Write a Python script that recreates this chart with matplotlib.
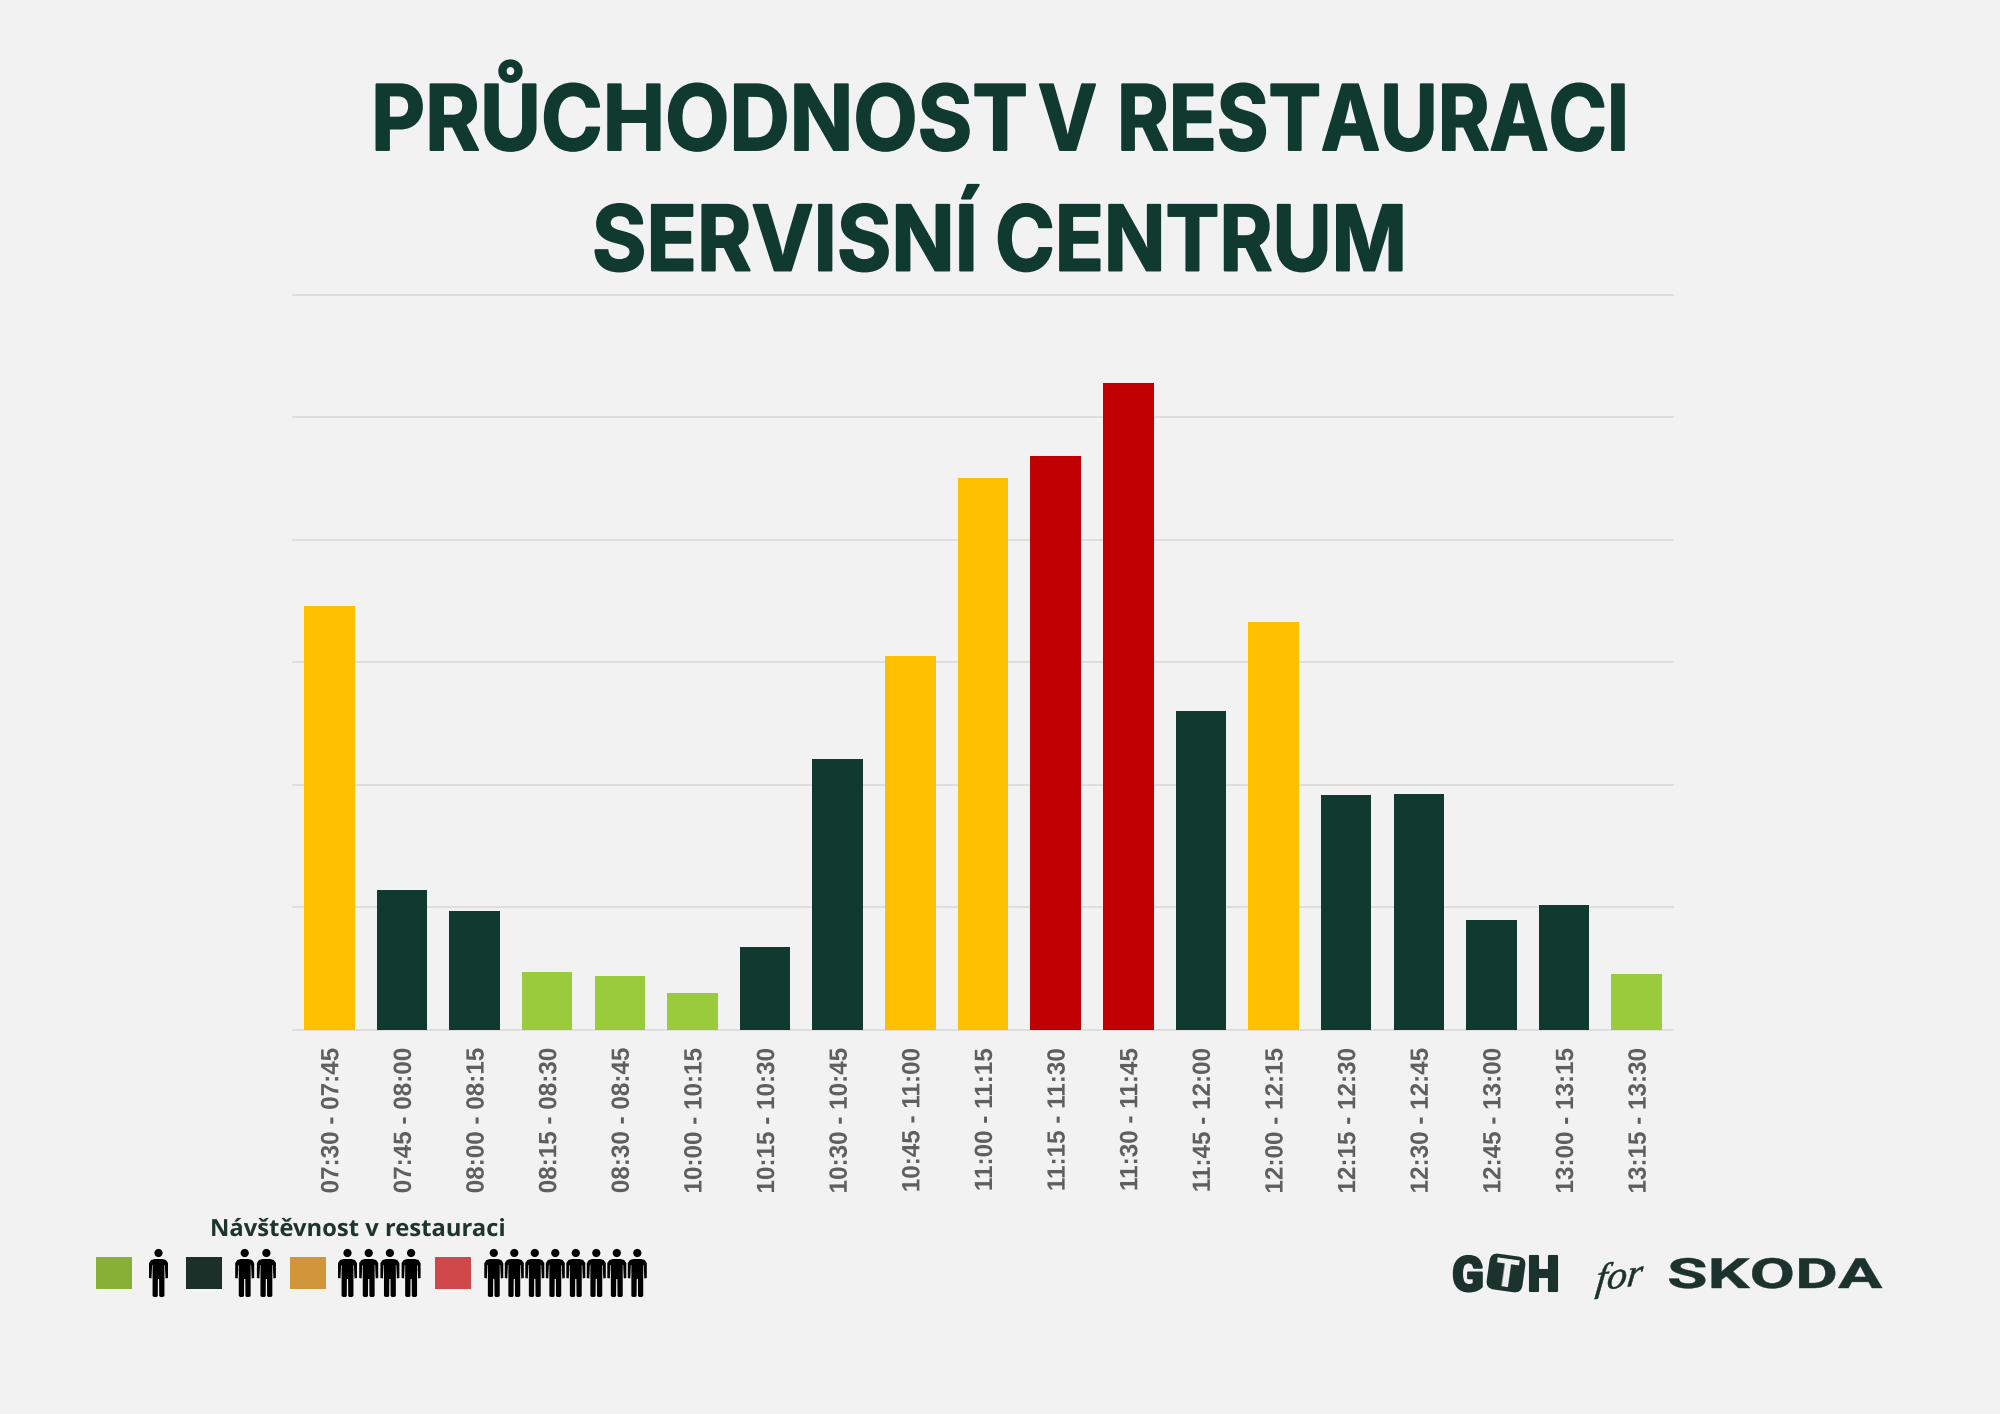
#!/usr/bin/env python3
"""Throughput per quarter hour in the service centre restaurant."""

import numpy as np
import matplotlib
matplotlib.use("Agg")
import matplotlib.pyplot as plt
import matplotlib.patheffects as pe
from matplotlib.patches import Circle, FancyBboxPatch, Polygon, Rectangle
from matplotlib.path import Path
from matplotlib.transforms import Affine2D, IdentityTransform

# -------------------- Data --------------------
SLOTS = [
    "07:30 - 07:45", "07:45 - 08:00", "08:00 - 08:15", "08:15 - 08:30",
    "08:30 - 08:45", "10:00 - 10:15", "10:15 - 10:30", "10:30 - 10:45",
    "10:45 - 11:00", "11:00 - 11:15", "11:15 - 11:30", "11:30 - 11:45",
    "11:45 - 12:00", "12:00 - 12:15", "12:15 - 12:30", "12:30 - 12:45",
    "12:45 - 13:00", "13:00 - 13:15", "13:15 - 13:30",
]
VISITORS = [34.6, 11.4, 9.65, 4.7, 4.4, 3.0, 6.75, 22.1, 30.5, 45.05,
            46.85, 52.8, 26.0, 33.3, 19.15, 19.25, 8.95, 10.15, 4.5]
LEVELS = ["high", "mid", "mid", "low", "low", "low", "mid", "mid", "high", "high",
          "peak", "peak", "mid", "high", "mid", "mid", "mid", "mid", "low"]
Y_TICKS = [0, 10, 20, 30, 40, 50, 60]
LEGEND_PEOPLE = [1, 2, 4, 8]

TITLE_LINES = ["PRŮCHODNOST V RESTAURACI", "SERVISNÍ CENTRUM"]
LEGEND_TITLE = "Návštěvnost v restauraci"

# -------------------- Style --------------------
BG = "#f2f2f2"
INK = "#103a30"
LOGO_INK = "#1b332c"
BAR_COLORS = {"low": "#9acb3c", "mid": "#103a30", "high": "#ffc000", "peak": "#c00000"}
SWATCH_COLORS = ["#88b036", "#1b3028", "#d2963a", "#cf484a"]
W, H = 2000, 1414


class Stretch(pe.AbstractPathEffect):
    """Scale glyph outlines around a display point, optionally thickening them."""

    def __init__(self, sx=1.0, sy=1.0, cx=0.0, cy=0.0, dx=0.0, skew=0.0, stroke=0.0):
        super().__init__()
        self.sx, self.sy, self.cx, self.cy = sx, sy, cx, cy
        self.dx, self.skew, self.stroke = dx, skew, stroke

    def draw_path(self, renderer, gc, tpath, affine, rgbFace=None):
        scale = (Affine2D().translate(-self.cx, -self.cy).skew_deg(self.skew, 0)
                 .scale(self.sx, self.sy).translate(self.cx + self.dx, self.cy))
        gc0 = renderer.new_gc()
        gc0.copy_properties(gc)
        if self.stroke and rgbFace is not None:
            gc0.set_linewidth(self.stroke)
            gc0.set_foreground(rgbFace)
        renderer.draw_path(gc0, tpath, affine + scale, rgbFace)
        gc0.restore()


class WordSpans(pe.AbstractPathEffect):
    """Remap glyph x positions piecewise, from src knots to dst knots (display px)."""

    def __init__(self, src, dst, stroke=0.0):
        super().__init__()
        self.src, self.dst, self.stroke = src, dst, stroke

    def draw_path(self, renderer, gc, tpath, affine, rgbFace=None):
        verts = affine.transform(tpath.vertices)
        verts[:, 0] = np.interp(verts[:, 0], self.src, self.dst)
        gc0 = renderer.new_gc()
        gc0.copy_properties(gc)
        gc0.set_linewidth(self.stroke)
        gc0.set_foreground(rgbFace)
        renderer.draw_path(gc0, Path(verts, tpath.codes), IdentityTransform(), rgbFace)
        gc0.restore()


def text_width(ax, s, **kw):
    t = ax.text(0, 0, s, **kw)
    width = t.get_window_extent(ax.figure.canvas.get_renderer()).width
    t.remove()
    return width


def fit_words(ax, baseline, s, spans, stroke=0.0, **kw):
    # one text line whose words each land on their own pixel span
    x0 = spans[0][0]
    src, end = [], ""
    for word in s.split(" "):
        end = f"{end} {word}" if end else word
        stop = text_width(ax, end, **kw)
        src += [x0 + stop - text_width(ax, word, **kw), x0 + stop]
    dst = [x for span in spans for x in span]
    # keep the scale of outlines that reach past the measured ends
    src = [src[0] - 50] + src + [src[-1] + 50]
    dst = [dst[0] - 50] + dst + [dst[-1] + 50]
    return ax.text(x0, baseline, s, ha="left", va="baseline",
                   path_effects=[WordSpans(src, dst, stroke=stroke)], **kw)


def fit_text(ax, x0, x1, baseline, s, stroke=0.0, **kw):
    # place text on a pixel baseline and stretch it to span x0..x1
    t = ax.text(x0, baseline, s, ha="left", va="baseline", **kw)
    bb = t.get_window_extent(ax.figure.canvas.get_renderer())
    t.set_path_effects([Stretch(sx=(x1 - x0) / bb.width, cx=bb.x0, stroke=stroke)])
    return t


def draw_person(ax, cx, top):
    # 19 px wide, 48 px tall pictogram
    ux = 19.0 / 16.0
    half = [(0, 10), (3.2, 10), (6.2, 11), (8, 14), (8, 29), (5.9, 29.5), (5.4, 16),
            (5, 16), (5, 47), (3.8, 48), (1.6, 48), (0.6, 47), (0.5, 30)]
    pts = half + [(-x, y) for x, y in reversed(half[1:])]
    ax.add_patch(Polygon([(cx + x * ux, top + y) for x, y in pts], fc="black", ec="none"))
    ax.add_patch(Circle((cx, top + 4.0), 4.1, fc="black", ec="none"))


fig = plt.figure(figsize=(W / 100, H / 100), dpi=100, facecolor=BG)

# -------------------- Bars --------------------
ax = fig.add_axes([293 / W, 1 - 1029.5 / H, (1673 - 293) / W, (1029.5 - 294.6) / H], facecolor=BG)
ax.bar(range(len(SLOTS)), VISITORS, width=0.695, color=[BAR_COLORS[k] for k in LEVELS], zorder=3)
ax.set_xlim(-0.5, len(SLOTS) - 0.5)
ax.set_ylim(Y_TICKS[0], Y_TICKS[-1])
ax.set_yticks(Y_TICKS)
ax.set_yticklabels([])
ax.set_xticks(range(len(SLOTS)))
ax.set_xticklabels(SLOTS, rotation=90, fontsize=18, fontweight="bold",
                   family="Liberation Sans", color="#5f5f5f")
ax.tick_params(length=0, axis="both")
ax.tick_params(axis="x", pad=13)
ax.grid(True, axis="y", color="#d9d9d9", linewidth=1.1, zorder=0)
for line in ax.get_ygridlines():
    line.set_clip_on(False)
for side in ax.spines.values():
    side.set_visible(False)
# squeeze the time labels slightly along their length
for label in ax.get_xticklabels():
    label.set_path_effects([Stretch(sy=0.97, cy=H - 1048, dx=2)])

# -------------------- Title, legend and logos, laid out in pixels --------------------
over = fig.add_axes([0, 0, 1, 1], facecolor="none")
over.set_xlim(0, W)
over.set_ylim(H, 0)
over.axis("off")

title_kw = dict(fontsize=65, fontweight="bold", family="Inter", color=INK)
fit_words(over, 150, TITLE_LINES[0], [(371, 1028), (1038, 1097), (1117, 1629)], stroke=1.4, **title_kw)
fit_words(over, 270.5, TITLE_LINES[1], [(592, 978), (995, 1407)], stroke=1.4, **title_kw)

fit_text(over, 210, 506, 1236, LEGEND_TITLE, fontsize=17, fontweight="bold", family="Open Sans", color="#1e352d")

swatch_x = [96, 185.5, 290, 434.5]
person_x0 = [158.5, 244.7, 347.5, 493.8]
person_step = [0, 21.7, 21.2, 20.5]
for sx, color, px, step, n in zip(swatch_x, SWATCH_COLORS, person_x0, person_step, LEGEND_PEOPLE):
    over.add_patch(Rectangle((sx, 1257), 36, 32, fc=color, ec="none"))
    for i in range(n):
        draw_person(over, px + i * step, 1249)

# GTH
fit_text(over, 1452, 1484, 1291, "G", stroke=1.5, fontsize=35, fontweight="black", family="Roboto", color=LOGO_INK)
tilt = Affine2D().rotate_deg_around(1506, 1273, 8) + over.transData
over.add_patch(FancyBboxPatch((1489, 1256), 34, 34, boxstyle="round,pad=0,rounding_size=7",
                              fc=LOGO_INK, ec=LOGO_INK, lw=1.5, transform=tilt))
over.text(1504.5, 1286.5, "T", ha="center", va="baseline", rotation=-8, rotation_mode="anchor",
          fontsize=27, fontweight="black", family="Roboto", color=BG)
fit_text(over, 1528, 1559, 1291, "H", stroke=1.5, fontsize=35, fontweight="black", family="Roboto", color=LOGO_INK)

# for, slanted like a signature
over.text(1595, 1291, "for", ha="left", va="baseline", rotation=8, rotation_mode="anchor",
          fontsize=28, style="italic", family="Liberation Serif", color=LOGO_INK,
          path_effects=[Stretch(cx=1595, cy=H - 1291, skew=14, stroke=0.4)])

# SKODA
fit_text(over, 1667, 1882, 1288, "SKODA", stroke=0.3, fontsize=30, fontweight="bold", family="Roboto", color=LOGO_INK)

fig.savefig("out.png", dpi=100, facecolor=BG)
